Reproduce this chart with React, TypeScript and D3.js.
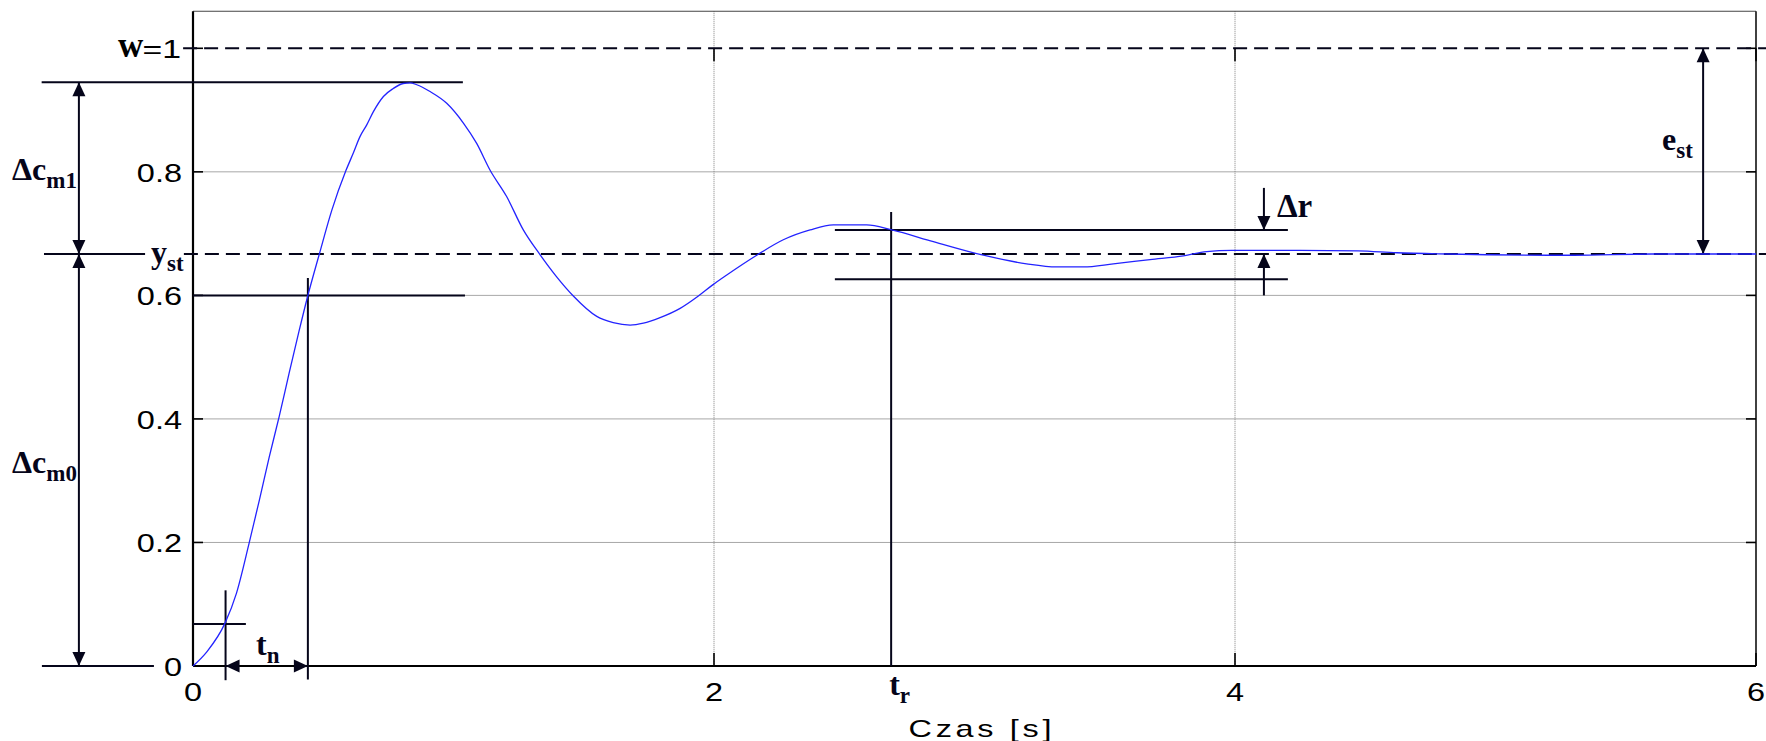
import React, { useRef, useEffect } from 'react';
import * as d3 from 'd3';

// step response (time [s], output)
const TIME = [
  0, 0.053, 0.1225, 0.167, 0.215, 0.255, 0.293, 0.331, 0.369, 0.407, 0.438, 0.485, 0.533,
  0.587, 0.615, 0.641, 0.667, 0.692, 0.731, 0.769, 0.807, 0.833, 0.859, 0.91, 0.974, 1.038,
  1.089, 1.14, 1.204, 1.268, 1.332, 1.396, 1.46, 1.55, 1.613, 1.678, 1.729, 1.793, 1.87,
  1.94, 1.995, 2.049, 2.164, 2.266, 2.369, 2.458, 2.586, 2.682, 2.842, 3.034, 3.2, 3.315,
  3.418, 3.533, 3.674, 3.802, 3.891, 3.987, 4.25, 4.473, 4.62, 4.82, 5.3, 5.6, 6.0,
];
const RESPONSE = [
  0, 0.023, 0.069, 0.118, 0.198, 0.269, 0.339, 0.404, 0.474, 0.542, 0.595, 0.667, 0.738,
  0.802, 0.83, 0.857, 0.876, 0.897, 0.922, 0.935, 0.943, 0.944, 0.941, 0.93, 0.911, 0.879,
  0.846, 0.803, 0.76, 0.706, 0.666, 0.63, 0.599, 0.566, 0.556, 0.552, 0.555, 0.564, 0.579,
  0.599, 0.617, 0.633, 0.665, 0.69, 0.706, 0.714, 0.714, 0.706, 0.687, 0.665, 0.651, 0.646,
  0.646, 0.651, 0.658, 0.664, 0.671, 0.673, 0.673, 0.672, 0.669, 0.667, 0.665, 0.667, 0.667,
];

const X_TICKS = [0, 2, 4, 6];
const X_TICK_LABELS = ['0', '2', '4', '6'];
const Y_TICKS = [0, 0.2, 0.4, 0.6, 0.8];
const Y_TICK_LABELS = ['0', '0.2', '0.4', '0.6', '0.8'];
const Y_GRID = [0.2, 0.4, 0.6, 0.8];
const X_GRID = [2, 4];

// characteristic levels / times
const W_LEVEL = 1;
const Y_ST = 0.667;
const Y_PEAK = 0.945;
const Y_10 = 0.068;
const Y_90 = 0.6;
const T_10 = 0.125;
const T_90 = 0.441;
const T_R = 2.68;
const BAND_HI = 0.706;
const BAND_LO = 0.626;

const Y_TOP = 1.06;
const W = 1766;
const H = 741;
const SERIF = '"Liberation Serif", "Times New Roman", serif';
const SANS = '"Liberation Sans", Arial, sans-serif';

const App: React.FC = () => {
  const svgRef = useRef<SVGSVGElement | null>(null);

  useEffect(() => {
    if (!svgRef.current) return;
    const svg = d3.select(svgRef.current);
    svg.selectAll('*').remove();

    const x = d3.scaleLinear().domain([0, 6]).range([193, 1756]);
    const y = d3.scaleLinear().domain([0, 1]).range([666, 48.3]);

    svg.append('rect').attr('width', W).attr('height', H).attr('fill', '#fff');

    // grid
    svg.append('g').selectAll('line').data(Y_GRID).enter().append('line')
      .attr('x1', x(0)).attr('x2', x(6))
      .attr('y1', d => y(d)).attr('y2', d => y(d))
      .attr('stroke', '#a8a8a8').attr('stroke-width', 1);
    svg.append('g').selectAll('line').data(X_GRID).enter().append('line')
      .attr('x1', d => x(d)).attr('x2', d => x(d))
      .attr('y1', y(Y_TOP)).attr('y2', y(0))
      .attr('stroke', '#808080').attr('stroke-width', 1).attr('stroke-dasharray', '1,1');

    // frame
    svg.append('line').attr('x1', x(0)).attr('x2', x(6)).attr('y1', y(Y_TOP)).attr('y2', y(Y_TOP))
      .attr('stroke', '#444').attr('stroke-width', 1.2);
    svg.append('line').attr('x1', x(6)).attr('x2', x(6)).attr('y1', y(Y_TOP)).attr('y2', y(0))
      .attr('stroke', '#111').attr('stroke-width', 1.6);
    svg.append('line').attr('x1', x(0)).attr('x2', x(0)).attr('y1', y(Y_TOP)).attr('y2', y(0))
      .attr('stroke', '#000').attr('stroke-width', 2.2);
    svg.append('line').attr('x1', x(0)).attr('x2', x(6)).attr('y1', y(0)).attr('y2', y(0))
      .attr('stroke', '#000').attr('stroke-width', 2.2);

    // ticks
    const yTickVals = [...Y_TICKS, W_LEVEL];
    yTickVals.forEach(v => {
      svg.append('line').attr('x1', x(0)).attr('x2', x(0) + 10).attr('y1', y(v)).attr('y2', y(v))
        .attr('stroke', '#000').attr('stroke-width', 1.6);
      svg.append('line').attr('x1', x(6) - 10).attr('x2', x(6)).attr('y1', y(v)).attr('y2', y(v))
        .attr('stroke', '#000').attr('stroke-width', 1.6);
    });
    X_TICKS.forEach(t => {
      svg.append('line').attr('x1', x(t)).attr('x2', x(t)).attr('y1', y(0)).attr('y2', y(0) - 13)
        .attr('stroke', '#000').attr('stroke-width', 1.6);
      svg.append('line').attr('x1', x(t)).attr('x2', x(t)).attr('y1', y(1)).attr('y2', y(1) + 13)
        .attr('stroke', '#000').attr('stroke-width', 1.6);
    });

    // wide sans text (the export stretches glyphs horizontally)
    const wide = (px: number, py: number, str: string, anchor: string, size = 25, sx = 1.3) =>
      svg.append('text').attr('transform', `translate(${px},${py}) scale(${sx},1)`)
        .attr('text-anchor', anchor).attr('font-family', SANS).attr('font-size', size)
        .attr('fill', '#000').text(str);

    Y_TICKS.forEach((v, i) => wide(x(0) - 11, y(v) + 10, Y_TICK_LABELS[i], 'end'));
    X_TICKS.forEach((t, i) => wide(x(t), y(0) + 35, X_TICK_LABELS[i], 'middle'));
    wide(x(0) - 12, y(W_LEVEL) + 10, '=1', 'end', 26);
    svg.append('text').attr('x', 118).attr('y', y(W_LEVEL) + 9)
      .attr('font-family', SERIF).attr('font-weight', 'bold').attr('font-size', 35)
      .attr('fill', '#000').text('w');

    wide(980, 737, 'Czas [s]', 'middle', 24, 1.35)
      .attr('textLength', 143 / 1.35).attr('lengthAdjust', 'spacing');

    // helpers
    const ink = '#05051a';
    const hline = (t0: number, t1: number, v: number, dash?: string) => {
      const l = svg.append('line').attr('x1', x(t0)).attr('x2', x(t1)).attr('y1', y(v)).attr('y2', y(v))
        .attr('stroke', ink).attr('stroke-width', 2);
      if (dash) l.attr('stroke-dasharray', dash);
    };
    const vline = (t: number, v0: number, v1: number) => {
      svg.append('line').attr('x1', x(t)).attr('x2', x(t)).attr('y1', y(v0)).attr('y2', y(v1))
        .attr('stroke', ink).attr('stroke-width', 2);
    };
    const head = (px: number, py: number, dir: 'up' | 'down' | 'left' | 'right') => {
      const L = 14, hw = 6.5;
      let pts: [number, number][] = [];
      if (dir === 'up') pts = [[px, py], [px - hw, py + L], [px + hw, py + L]];
      if (dir === 'down') pts = [[px, py], [px - hw, py - L], [px + hw, py - L]];
      if (dir === 'left') pts = [[px, py], [px + L, py - hw], [px + L, py + hw]];
      if (dir === 'right') pts = [[px, py], [px - L, py - hw], [px - L, py + hw]];
      svg.append('path').attr('d', d3.line()(pts)! + 'Z').attr('fill', ink);
    };
    const label = (px: number, py: number, main: string, sub: string, size = 32, subSize = 23, dy = 8) => {
      const t = svg.append('text').attr('x', px).attr('y', py).attr('font-family', SERIF)
        .attr('font-weight', 'bold').attr('fill', ink);
      t.append('tspan').attr('font-size', size).text(main);
      t.append('tspan').attr('font-size', subSize).attr('dy', dy).text(sub);
    };

    // reference levels (dashed)
    hline(-0.038, 6.04, W_LEVEL, '14,7');
    hline(-0.035, 6.04, Y_ST, '14,7');

    // left dimension lines
    const ARROW_T = -0.438;
    hline(-0.581, 1.036, Y_PEAK);
    hline(-0.572, -0.184, Y_ST);
    hline(-0.58, -0.15, 0);
    vline(ARROW_T, Y_PEAK, 0);
    head(x(ARROW_T), y(Y_PEAK), 'up');
    head(x(ARROW_T), y(Y_ST), 'down');
    head(x(ARROW_T), y(Y_ST), 'up');
    head(x(ARROW_T), y(0), 'down');
    label(12, (y(Y_PEAK) + y(Y_ST)) / 2 + 12, 'Δc', 'm1');
    label(12, (y(Y_ST) + y(0)) / 2 + 13, 'Δc', 'm0');
    label(151, y(Y_ST) + 9, 'y', 'st');

    // rise time markers
    hline(0, 0.203, Y_10);
    vline(T_10, 0.1225, -0.023);
    hline(0, 1.044, Y_90);
    vline(T_90, 0.628, -0.022);
    head(x(T_10), y(0), 'left');
    head(x(T_90), y(0), 'right');
    label(256, y(0) - 11, 't', 'n');

    // settling band
    const BAND_T0 = 2.464, BAND_T1 = 4.203, DR_T = 4.111;
    hline(BAND_T0, BAND_T1, BAND_HI);
    hline(BAND_T0, BAND_T1, BAND_LO);
    vline(T_R, 0.735, 0);
    label(x(T_R) - 2, y(0) + 29, 't', 'r');
    vline(DR_T, 0.774, BAND_HI);
    head(x(DR_T), y(BAND_HI), 'down');
    vline(DR_T, 0.6, Y_ST);
    head(x(DR_T), y(Y_ST), 'up');
    label(x(DR_T) + 13, 217, 'Δr', '', 33);

    // steady-state error
    const EST_T = 5.797;
    vline(EST_T, W_LEVEL, Y_ST);
    head(x(EST_T), y(W_LEVEL), 'up');
    head(x(EST_T), y(Y_ST), 'down');
    label(1662, 150, 'e', 'st');

    // response
    const pts = TIME.map((t, i) => [t, RESPONSE[i]] as [number, number]);
    const line = d3.line<[number, number]>()
      .x(d => x(d[0])).y(d => y(d[1]))
      .curve(d3.curveMonotoneX);
    svg.append('path').datum(pts).attr('d', line).attr('fill', 'none')
      .attr('stroke', '#2323ff').attr('stroke-width', 1.3);
  }, []);

  return (
    <svg ref={svgRef} width={W} height={H}
      style={{ position: 'absolute', left: 0, top: 0, display: 'block' }} />
  );
};

export default App;
